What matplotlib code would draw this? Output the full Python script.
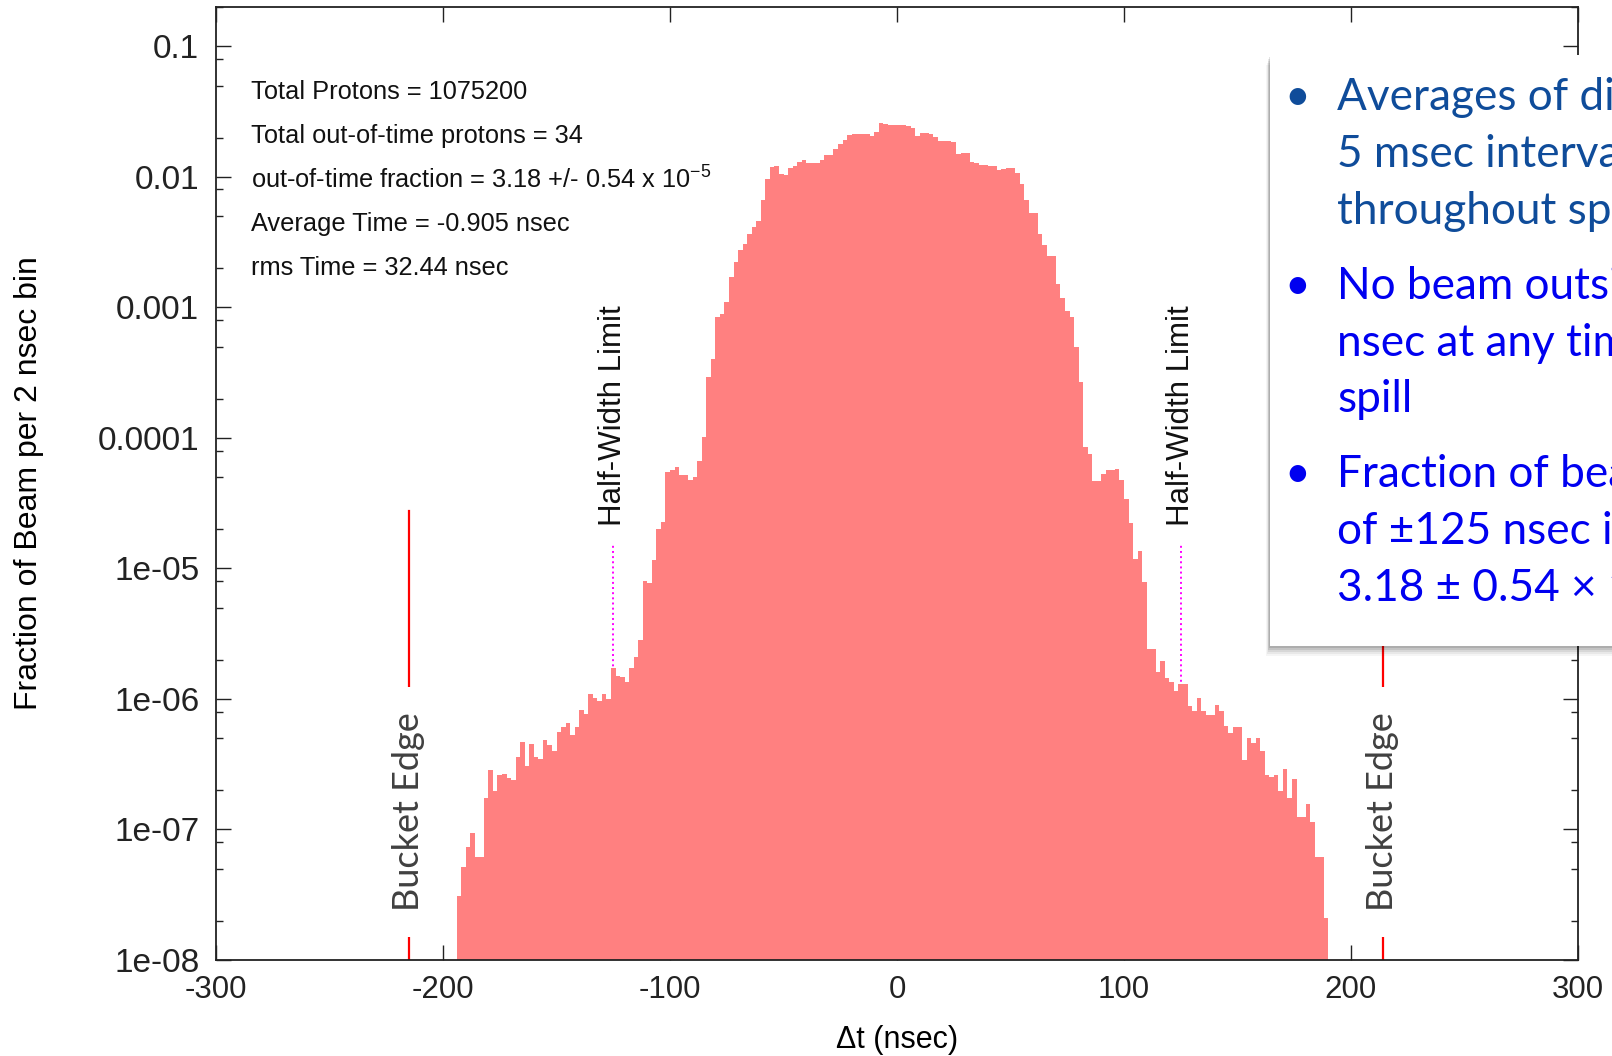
import numpy as np
import matplotlib
matplotlib.use("Agg")
from matplotlib import pyplot as plt
from matplotlib.patches import Rectangle
from matplotlib.ticker import FixedLocator, FixedFormatter, LogLocator, NullFormatter

plt.rcParams['font.family'] = ['Liberation Sans', 'DejaVu Sans']
plt.rcParams['axes.unicode_minus'] = False
plt.rcParams['mathtext.default'] = 'regular'

# fraction of beam per 2 nsec bin, first bin starts at -194 nsec
bin_start = -194
bin_width = 2

left_tail = [3.1e-8, 5.2e-8, 7.3e-8, 9.4e-8, 6.2e-8, 6.2e-8, 1.75e-7, 2.83e-7, 1.96e-7, 2.6e-7,
             2.67e-7, 2.48e-7, 2.4e-7, 3.57e-7, 4.71e-7, 3.07e-7, 4.48e-7, 3.61e-7, 3.47e-7, 4.85e-7,
             4.43e-7, 3.97e-7, 5.56e-7, 6.09e-7, 6.59e-7, 5.32e-7, 6.09e-7, 8.18e-7, 7.69e-7, 1.1e-6,
             1.01e-6, 9.66e-7, 1.1e-6, 9.95e-7, 1.74e-6, 1.51e-6, 1.46e-6, 1.35e-6, 1.74e-6, 2.11e-6,
             2.82e-6]
left_rise = [8.0e-6, 7.78e-6, 1.17e-5, 2.0e-5, 2.27e-5, 5.47e-5, 5.65e-5, 6.02e-5, 5.24e-5, 5.21e-5,
             4.73e-5, 4.99e-5, 6.69e-5, 1.01e-4, 2.94e-4, 4.03e-4, 8.37e-4, 8.85e-4, 1.1e-3, 1.71e-3,
             2.21e-3, 2.77e-3, 3.08e-3, 3.65e-3, 4.16e-3, 4.58e-3, 6.68e-3, 9.57e-3, 1.19e-2, 1.21e-2,
             1.06e-2, 1.04e-2, 1.16e-2]
core = [1.2e-2, 1.31e-2, 1.34e-2, 1.27e-2, 1.27e-2, 1.27e-2, 1.35e-2, 1.48e-2, 1.48e-2, 1.64e-2,
        1.79e-2, 1.92e-2, 2.08e-2, 2.14e-2, 2.14e-2, 2.14e-2, 2.14e-2, 2.04e-2, 2.19e-2, 2.58e-2,
        2.52e-2, 2.51e-2, 2.51e-2, 2.51e-2, 2.48e-2, 2.45e-2, 2.38e-2, 2.05e-2, 2.18e-2, 2.18e-2,
        2.11e-2, 2.01e-2, 1.88e-2, 1.88e-2, 1.88e-2, 1.85e-2, 1.5e-2, 1.52e-2, 1.52e-2, 1.31e-2,
        1.27e-2, 1.24e-2, 1.24e-2, 1.21e-2, 1.21e-2, 1.13e-2, 1.15e-2, 1.17e-2, 1.17e-2, 1.07e-2]
right_fall = [8.75e-3, 6.68e-3, 5.27e-3, 5.27e-3, 3.66e-3, 3.0e-3, 2.46e-3, 2.46e-3, 1.52e-3, 1.18e-3,
              9.38e-4, 8.38e-4, 4.93e-4, 2.7e-4, 8.51e-5, 7.55e-5, 4.65e-5, 4.65e-5, 5.25e-5, 5.68e-5,
              5.68e-5, 5.79e-5, 4.74e-5, 3.4e-5, 2.24e-5, 1.18e-5, 1.37e-5, 7.82e-6, 2.4e-6, 2.4e-6,
              1.61e-6, 1.96e-6, 1.44e-6, 1.35e-6, 1.15e-6, 1.31e-6, 1.31e-6, 8.81e-7, 8.11e-7, 1.01e-6,
              8.11e-7, 7.52e-7, 7.52e-7, 8.97e-7, 8.11e-7, 6.22e-7, 5.44e-7, 6.05e-7, 6.05e-7, 3.4e-7,
              4.99e-7, 4.56e-7, 4.99e-7, 3.98e-7, 2.61e-7, 2.51e-7, 2.61e-7, 1.98e-7, 2.9e-7, 1.75e-7,
              2.43e-7, 1.25e-7, 1.25e-7, 1.56e-7, 1.15e-7, 6.11e-8, 6.11e-8, 2.09e-8]

x_ticks = [-300, -200, -100, 0, 100, 200, 300]
x_tick_labels = ['-300', '-200', '-100', '0', '100', '200', '300']
y_ticks = [1e-8, 1e-7, 1e-6, 1e-5, 1e-4, 1e-3, 1e-2, 1e-1]
y_tick_labels = ['1e-08', '1e-07', '1e-06', '1e-05', '0.0001', '0.001', '0.01', '0.1']

bucket_edges = [-215, 214]
half_width = [-125, 125]

stats_lines = [
    'Total Protons = 1075200',
    'Total out-of-time protons = 34',
    'out-of-time fraction = 3.18 +/- 0.54 x 10$^{-5}$',
    'Average Time = -0.905 nsec',
    'rms Time = 32.44 nsec',
]

bullet_colors = ['#0f4c9a', '#0000f0', '#0000f0']
bullet_lines = [
    ['Averages of distributions for', '5 msec intervals', 'throughout spill'],
    ['No beam outside \u00b1125', 'nsec at any time in', 'spill'],
    ['Fraction of beam outside', 'of \u00b1125 nsec is', '3.18 \u00b1 0.54 \u00d7 10\u207b\u2075'],
]

W, H = 1612, 1056
fig = plt.figure(figsize=(W / 100, H / 100), dpi=100)
fig.set_facecolor('white')
ax = fig.add_axes([216 / W, 1 - 960 / H, 1362 / W, 953 / H])

frac = np.array(left_tail + left_rise + core + right_fall)
edges = bin_start + bin_width * np.arange(len(frac) + 1)
ax.stairs(frac, edges, fill=True, baseline=1e-9, color='#ff8080', linewidth=0, zorder=2)

ax.set_yscale('log')
ax.set_xlim(-300, 300)
ax.set_ylim(1e-8, 0.2)

# limits and bucket edges
for x in half_width:
    ax.plot([x, x], [1e-8, 1.5e-5], color='#ff00ff', linestyle=':', linewidth=1.4, zorder=1.8)
    ax.text(x, 2.1e-5, 'Half-Width Limit', rotation=90, ha='center', va='bottom',
            fontsize=22.5, color='#111111')
for x in bucket_edges:
    ax.plot([x, x], [1e-8, 2.75e-5], color='#ff0000', linewidth=1.6, zorder=1.8)
    ax.text(x, 1.36e-7, 'Bucket Edge', rotation=90, ha='center', va='center',
            fontsize=26, family=['Lato', 'DejaVu Sans'], color='#404040', zorder=3,
            bbox=dict(boxstyle='square,pad=0.7', facecolor='white', edgecolor='none'))

for i, line in enumerate(stats_lines):
    ax.text(0.0257, 0.9105 - i * 0.0462, line, transform=ax.transAxes,
            ha='left', va='center', fontsize=18.3, color='#111111')

ax.xaxis.set_major_locator(FixedLocator(x_ticks))
ax.xaxis.set_major_formatter(FixedFormatter(x_tick_labels))
ax.yaxis.set_major_locator(FixedLocator(y_ticks))
ax.yaxis.set_major_formatter(FixedFormatter(y_tick_labels))
ax.yaxis.set_minor_locator(LogLocator(base=10, subs=(2, 5, 8)))
ax.yaxis.set_minor_formatter(NullFormatter())
ax.tick_params(which='both', direction='in', top=True, right=True, colors='#222222')
ax.tick_params(which='major', length=10.5, width=1.0)
ax.tick_params(which='minor', length=5, width=1.0)
ax.tick_params(axis='x', labelsize=22.5, pad=11)
ax.tick_params(axis='y', labelsize=24, pad=12)
for spine in ax.spines.values():
    spine.set_linewidth(1.3)
    spine.set_color('#222222')
    spine.set_zorder(2.5)

ax.set_xlabel('\u0394t (nsec)', fontsize=22, va='center')
ax.xaxis.set_label_coords(0.5, -0.084)
ax.set_ylabel('Fraction of Beam per 2 nsec bin', fontsize=23, va='center')
ax.yaxis.set_label_coords(-0.137, 0.5)

# slide text box on the right, running off the page
box_x, box_top, box_bottom = 1270, 55, 646
for k, a in enumerate([0.04, 0.05, 0.07, 0.09, 0.11]):
    off = 10 - 2 * k
    fig.patches.append(Rectangle(((box_x - off * 0.4) / W, 1 - (box_bottom + off) / H),
                                 0.4, (box_bottom - box_top) / H,
                                 transform=fig.transFigure, facecolor='#000000', alpha=a,
                                 edgecolor='none', zorder=4))
fig.patches.append(Rectangle((box_x / W, 1 - box_bottom / H), 0.4, (box_bottom - box_top) / H,
                             transform=fig.transFigure, facecolor='white', edgecolor='none',
                             zorder=5))

baselines = [[110, 167, 224], [299, 356, 412], [487, 544, 601]]
for color, lines, ys in zip(bullet_colors, bullet_lines, baselines):
    fig.text(1297 / W, 1 - ys[0] / H, '\u2022', ha='center', va='baseline', fontsize=32,
             family=['Lato', 'DejaVu Sans'], color=color, zorder=6)
    for txt, y in zip(lines, ys):
        fig.text(1337 / W, 1 - y / H, txt, ha='left', va='baseline', fontsize=31.8,
                 family=['Lato', 'DejaVu Sans'], color=color, zorder=6)

fig.savefig('out.png', dpi=100)
